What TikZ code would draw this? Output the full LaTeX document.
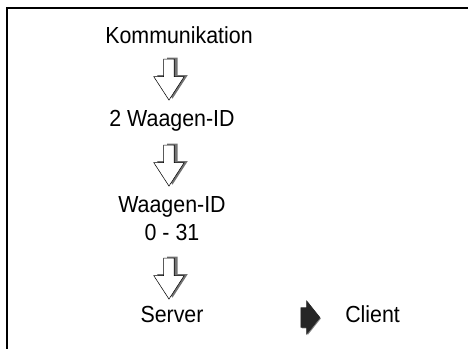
\documentclass[tikz,border=0pt]{standalone}
\usepackage{fontspec}
\setmainfont{Liberation Sans}[FakeStretch=0.92]
\usepackage{tikz}
\usetikzlibrary{shapes.arrows, shadows, positioning}

\begin{document}
\begin{tikzpicture}[
    lbl/.style={inner sep=0pt, align=center, font=\fontsize{17.5}{21}\selectfont},
    flowarr/.style={single arrow, draw, thin, fill=white, shape border rotate=270, inner sep=0.132cm, single arrow head extend=0.265cm, single arrow tip angle=66, minimum height=1.085cm, drop shadow={shadow xshift=2.6pt, shadow yshift=1pt, fill=black!55, opacity=1}},
    pointer/.style={single arrow, draw=black!85, fill=black!85, inner xsep=0.08cm, inner ysep=0.251cm, single arrow head extend=0.185cm, single arrow tip angle=103, minimum height=0.503cm, drop shadow={shadow xshift=0.75pt, shadow yshift=-0.75pt, fill=gray, opacity=1}},
]
\useasboundingbox (0,0) rectangle (12.383,-9.234);

% frame, top and left only
\draw[line width=1.5pt] (0.185,-9.234) -- (0.185,-0.212) -- (12.383,-0.212);

\node[lbl, anchor=base] (komm) at (4.736, -1.138) {Kommunikation};
\node[lbl, anchor=base] (twoid) at (4.551, -3.360) {2 Waagen-ID};
\node[lbl, anchor=north] (waagid) at (4.551, -5.186) {Waagen-ID\\0 - 31};
\node[lbl, anchor=base] (server) at (4.551, -8.520) {Server};
\node[lbl, anchor=base west] (client) at (9.128, -8.520) {Client};

\node[flowarr] (a1) at (4.471, -1.998) {};
\node[flowarr] (a2) at (4.471, -4.273) {};
\node[flowarr] (a3) at (4.471, -7.263) {};
\node[pointer] (p1) at (8.109, -8.401) {};

\end{tikzpicture}
\end{document}
